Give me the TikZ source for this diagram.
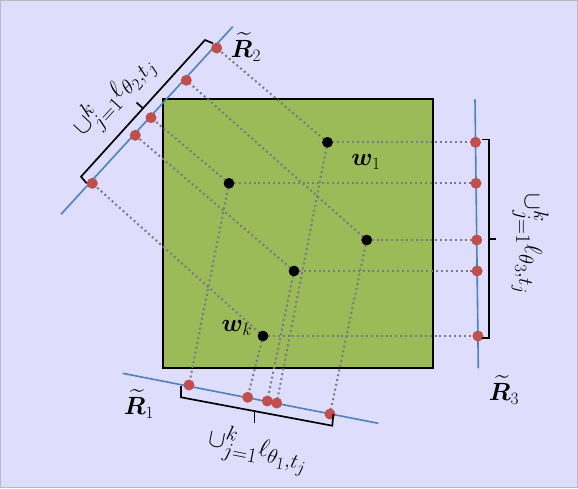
\documentclass[tikz,border=0pt]{standalone}
\usepackage{amsmath,bm}
\DeclareMathSizes{23}{23}{19}{16}
\DeclareMathSizes{25}{25}{21}{17}
\definecolor{bgc}{RGB}{222,222,252}
\definecolor{bordc}{RGB}{185,185,190}
\definecolor{sqgreen}{RGB}{155,187,89}
\definecolor{axblue}{RGB}{79,129,189}
\definecolor{dotred}{RGB}{192,80,77}
\definecolor{projgray}{RGB}{122,122,130}
\tikzset{
  sq/.style={fill=sqgreen, draw=black, line width=1.7pt},
  axis/.style={axblue, line width=1.6pt},
  proj/.style={projgray, line width=2pt, dash pattern=on 2pt off 2.9pt},
  bdot/.style={circle, fill=black, inner sep=0pt, minimum size=10.5pt},
  rdot/.style={circle, fill=dotred, inner sep=0pt, minimum size=11pt},
  brk/.style={black, line width=1.7pt, line join=miter},
  lbl/.style={inner sep=0pt, font=\fontsize{23}{27}\selectfont},
  blbl/.style={inner sep=0pt, font=\fontsize{25}{29}\selectfont}
}
\begin{document}
\begin{tikzpicture}[x=1pt,y=-1pt]
\useasboundingbox (0,0) rectangle (578,488);
\fill[bgc, draw=bordc, line width=1pt] (0.5,0.5) rectangle (577.5,487.5);
\draw[sq] (163,99) rectangle (433,368);
% axes
\coordinate (r2a) at (61,214.3);
\coordinate (r2b) at (232.7,26.7);
\coordinate (r1a) at (122.7,373.3);
\coordinate (r1b) at (378.3,423.3);
\coordinate (r3a) at (475,99.3);
\coordinate (r3b) at (478.3,368.3);
\draw[axis] (r2a) -- (r2b);
\draw[axis] (r1a) -- (r1b);
\draw[axis] (r3a) -- (r3b);
% points
\node[bdot] (w1) at (327.5,142.3) {};
\node[bdot] (w2) at (229,183.3) {};
\node[bdot] (w3) at (366.7,240) {};
\node[bdot] (w4) at (294,271) {};
\node[bdot] (wk) at (263,336) {};
% projections on R2
\coordinate (a1) at (216.7,48);
\coordinate (a3) at (186.3,80.3);
\coordinate (a2) at (151,117.7);
\coordinate (a4) at (135.3,135.3);
\coordinate (ak) at (92.3,183.3);
% projections on R1
\coordinate (b2) at (189,385);
\coordinate (bk) at (247.7,397.3);
\coordinate (b4) at (267.3,401);
\coordinate (b1) at (276.7,403);
\coordinate (b3) at (330,414);
% projections on R3
\coordinate (c1) at (475.5,142.3);
\coordinate (c2) at (476,183.3);
\coordinate (c3) at (476.7,240);
\coordinate (c4) at (477.1,271);
\coordinate (ck) at (477.9,336);
\foreach \p in {1,2,3,4,k}{
  \draw[proj] (w\p.center) -- (a\p);
  \draw[proj] (w\p.center) -- (b\p);
  \draw[proj] (w\p.center) -- (c\p);
}
\foreach \p in {1,2,3,4,k}{
  \node[bdot] at (w\p) {};
  \node[rdot] at (a\p) {};
  \node[rdot] at (b\p) {};
  \node[rdot] at (c\p) {};
}
% brackets
\draw[brk] (213,43.3) -- (205,40) -- (81,176.7) -- (86.7,183.3);
\draw[brk] (143,108.3) -- (136.5,102.5);
\draw[brk] (181,386) -- (181,397.3) -- (332.3,425.7) -- (333.3,414);
\draw[brk] (254.5,411.5) -- (254.5,422.5);
\draw[brk] (481.7,139.5) -- (489.3,139.5) -- (489.3,338.3) -- (481.7,338.3);
\draw[brk] (489.3,239) -- (496,239);
% labels
\node[lbl] (lR2) at (246,47) {$\widetilde{\bm R}_2$};
\node[lbl] (lR1) at (139,404) {$\widetilde{\bm R}_1$};
\node[lbl] (lR3) at (504,390) {$\widetilde{\bm R}_3$};
\node[lbl] (lw1) at (366,162) {$\bm w_1$};
\node[lbl] (lwk) at (237,328) {$\bm w_k$};
\node[blbl, rotate=47.4] (u2) at (114,96) {$\cup_{j=1}^k \ell_{\theta_2,t_j}$};
\node[blbl, rotate=-11] (u1) at (258,450) {$\cup_{j=1}^k \ell_{\theta_1,t_j}$};
\node[blbl, rotate=-90] (u3) at (530,244) {$\cup_{j=1}^k \ell_{\theta_3,t_j}$};
\end{tikzpicture}
\end{document}
